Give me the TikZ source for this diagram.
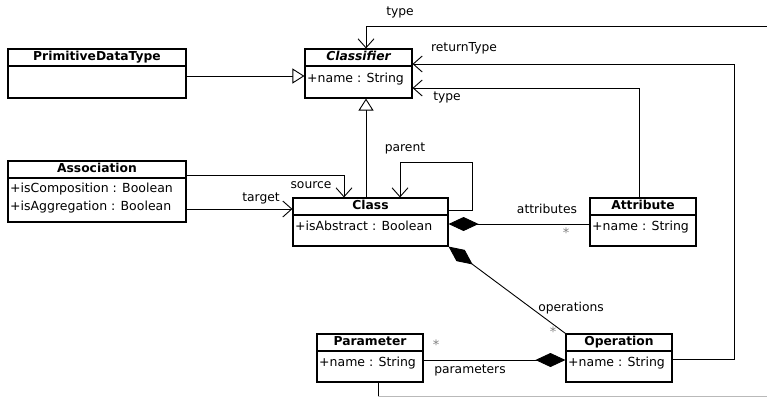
\documentclass[tikz,border=0pt]{standalone}
\usepackage{fontspec}
\setmainfont{DejaVu Sans}
\usetikzlibrary{arrows.meta,fit,calc}

\newcommand\umlbox[7]{%
  \node[box, fit={(#2,#3)(#4,#6)}] (#1) {};
  \draw[line width=1.1pt] (#2,#5) -- (#4,#5);
  \node[ttl] (#1-title) at ($(#1.north)+(0,{(#5-#3)/2})$) {#7};
}

\begin{document}
\begin{tikzpicture}[x=1pt,y=-1pt,
  box/.style={draw, line width=1.1pt, inner sep=0pt},
  ttl/.style={font=\fontsize{12.3}{14}\selectfont\bfseries, inner sep=0pt, text height=8.6pt, text depth=2.4pt},
  attr/.style={font=\fontsize{12.5}{14}\selectfont, inner sep=0pt, anchor=west, text height=8.8pt, text depth=2.5pt},
  lbl/.style={font=\fontsize{12.3}{14}\selectfont, inner sep=0pt, text height=8.8pt, text depth=2.5pt},
  mult/.style={font=\fontsize{13}{14}\selectfont, text=gray, inner sep=0pt},
  conn/.style={line width=0.9pt},
  barb/.style={conn, -{Straight Barb[length=9pt,width=16pt,line width=0.9pt]}},
  gen/.style={conn, -{Triangle[open,length=12pt,width=15pt,fill=white,line width=0.9pt]}},
  comp/.style={conn, {Diamond[length=30pt,width=14pt]}-},
]
\useasboundingbox (0,0) rectangle (767,397);

% classes
\umlbox{classifier}{305}{49}{412}{66}{98}{\itshape Classifier}
\node[attr] (classifier-a1) at (307,79) {+name : String};

\umlbox{pdt}{8}{49}{186}{66}{98}{PrimitiveDataType}

\umlbox{association}{8}{161}{186}{178}{222}{Association}
\node[attr] (association-a1) at (10,189.5) {+isComposition : Boolean};
\node[attr] (association-a2) at (10,207.5) {+isAggregation : Boolean};

\umlbox{class}{293}{198}{448}{215}{246}{Class}
\node[attr] (class-a1) at (295,227.5) {+isAbstract : Boolean};

\umlbox{attribute}{590}{198}{696}{215}{246}{Attribute}
\node[attr] (attribute-a1) at (592,227.5) {+name : String};

\umlbox{parameter}{317}{334}{423}{351}{382}{Parameter}
\node[attr] (parameter-a1) at (319,363) {+name : String};

\umlbox{operation}{566}{334}{672}{351}{382}{Operation}
\node[attr] (operation-a1) at (568,363) {+name : String};

% generalizations
\draw[gen] (pdt.east |- 0,76) -- (classifier.west |- 0,76);
\draw[gen] (class.north -| 366,0) -- (classifier.south -| 366,0);

% associations
\coordinate (typeend) at (767,26);
\draw[barb] (typeend) -| (classifier.north -| 366,0);
\draw[barb] (operation.east |- 0,359) -| (734,64) -- (classifier.east |- 0,64);
\draw[barb] (attribute.north -| 639,0) |- (classifier.east |- 0,88);
\draw[barb] (class.east |- 0,210) -| (472,162) -| (class.north -| 400,0);
\draw[barb] (association.east |- 0,175) -| (class.north -| 344,0);
\draw[barb] (association.east |- 0,209) -- (class.west |- 0,209);

% compositions
\draw[comp] (class.east |- 0,224) -- (attribute.west |- 0,224);
\draw[comp] (class.south east) -- (operation.north west);
\draw[comp] (operation.west |- 0,360) -- (parameter.east |- 0,360);

\coordinate (botcorner) at (378,396.4);
\coordinate (bottomend) at (767,396.4);
\draw[conn] (parameter.south -| 378,0) -- (botcorner);
\draw[conn, gray!55] (botcorner) -- (bottomend);

% labels
\node[lbl] (l-type1) at (400,12) {type};
\node[lbl] (l-rt) at (464,48.5) {returnType};
\node[lbl] (l-type2) at (447,97.5) {type};
\node[lbl] (l-parent) at (405,148) {parent};
\node[lbl] (l-source) at (311,185) {source};
\node[lbl] (l-target) at (261,198) {target};
\node[lbl] (l-attrs) at (547,210) {attributes};
\node[mult] (m-attrs) at (566,233) {*};
\node[lbl] (l-ops) at (571,308) {operations};
\node[mult] (m-ops) at (553,332) {*};
\node[mult] (m-params) at (436,345) {*};
\node[lbl] (l-params) at (470,370) {parameters};
\end{tikzpicture}
\end{document}
